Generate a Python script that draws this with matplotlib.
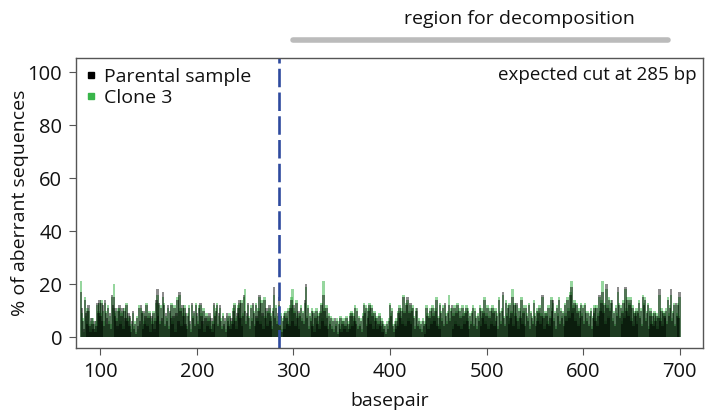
import matplotlib
matplotlib.use('Agg')
import matplotlib.pyplot as plt
from matplotlib.lines import Line2D
import numpy as np

# basepair positions 80..700
bp_start = 80
bp_end = 700

# % aberrant sequences, parental sample (one value per bp, rows of 10 bp)
parental = [
    17, 11, 6, 3, 14, 9, 5, 10, 12, 4,
    2, 7, 5, 3, 6, 2, 4, 13, 9, 14,
    8, 13, 6, 12, 4, 14, 9, 7, 11, 5,
    9, 3, 16, 12, 15, 8, 11, 6, 4, 10,
    12, 5, 8, 11, 3, 10, 7, 12, 6, 9,
    4, 8, 2, 6, 10, 3, 5, 1, 7, 4,
    11, 6, 12, 9, 3, 10, 5, 8, 12, 4,
    7, 9, 2, 8, 5, 9, 3, 6, 14, 18,
    8, 13, 5, 11, 7, 17, 12, 4, 9, 6,
    12, 3, 10, 7, 12, 5, 8, 11, 2, 9,
    14, 6, 17, 10, 4, 12, 8, 11, 5, 9,
    3, 8, 11, 6, 2, 13, 7, 10, 4, 12,
    9, 5, 11, 3, 13, 8, 6, 10, 2, 7,
    8, 4, 6, 9, 3, 7, 2, 5, 13, 8,
    10, 12, 4, 9, 12, 6, 3, 8, 5, 7,
    2, 9, 6, 4, 8, 3, 7, 5, 10, 12,
    6, 3, 9, 11, 14, 7, 13, 4, 8, 16,
    10, 5, 9, 13, 7, 3, 11, 6, 13, 9,
    4, 12, 8, 6, 10, 16, 5, 13, 9, 3,
    14, 7, 11, 4, 9, 12, 6, 8, 3, 10,
    19, 7, 11, 5, 9, 15, 4, 8, 2, 6,
    8, 3, 9, 7, 5, 10, 4, 11, 14, 6,
    12, 9, 4, 13, 7, 10, 3, 8, 11, 6,
    9, 5, 14, 20, 7, 11, 3, 8, 6, 10,
    4, 9, 2, 7, 10, 5, 8, 3, 9, 12,
    6, 16, 10, 4, 11, 7, 3, 8, 5, 7,
    3, 6, 2, 7, 4, 6, 1, 5, 3, 7,
    2, 5, 6, 3, 4, 7, 2, 5, 3, 8,
    9, 4, 8, 6, 11, 5, 10, 3, 7, 4,
    6, 2, 8, 12, 9, 11, 4, 7, 10, 12,
    5, 11, 8, 3, 9, 6, 7, 3, 5, 8,
    4, 6, 2, 5, 3, 4, 1, 5, 3, 6,
    12, 8, 10, 4, 2, 5, 3, 6, 4, 9,
    11, 7, 10, 5, 15, 9, 4, 12, 15, 6,
    9, 13, 5, 10, 11, 7, 3, 10, 11, 4,
    6, 3, 5, 2, 6, 4, 1, 5, 11, 8,
    3, 7, 10, 5, 11, 8, 6, 10, 14, 4,
    7, 3, 12, 9, 6, 11, 4, 13, 8, 5,
    9, 12, 6, 10, 12, 3, 8, 11, 5, 9,
    12, 4, 10, 7, 3, 11, 8, 5, 9, 11,
    6, 10, 3, 8, 5, 9, 11, 4, 10, 7,
    3, 8, 6, 11, 4, 10, 7, 9, 14, 5,
    8, 11, 3, 7, 10, 5, 11, 9, 4, 10,
    6, 8, 3, 14, 9, 5, 10, 17, 7, 4,
    13, 8, 11, 5, 12, 7, 9, 15, 4, 12,
    8, 13, 6, 3, 10, 7, 14, 5, 9, 11,
    4, 11, 8, 6, 12, 3, 9, 7, 5, 13,
    8, 4, 10, 6, 9, 11, 5, 8, 16, 7,
    3, 9, 8, 5, 11, 4, 7, 14, 10, 14,
    6, 9, 3, 11, 8, 14, 5, 10, 7, 9,
    4, 12, 8, 6, 14, 10, 7, 16, 19, 9,
    11, 13, 6, 12, 9, 4, 10, 7, 12, 8,
    11, 5, 12, 9, 6, 9, 4, 8, 10, 3,
    7, 9, 11, 6, 11, 4, 8, 16, 10, 13,
    17, 9, 12, 5, 20, 11, 7, 14, 10, 13,
    14, 6, 9, 4, 11, 8, 19, 12, 7, 11,
    5, 9, 13, 7, 19, 10, 14, 8, 12, 14,
    6, 11, 4, 9, 8, 10, 5, 9, 13, 7,
    10, 4, 15, 12, 14, 6, 9, 12, 3, 8,
    10, 5, 8, 4, 9, 6, 8, 3, 7, 18,
    6, 10, 4, 9, 8, 7, 10, 5, 14, 8,
    11, 18, 6, 9, 12, 4, 13, 8, 12, 7,
    17,
]

# % aberrant sequences, clone 3
clone3 = [
    21, 9, 7, 2, 15, 8, 6, 11, 10, 5,
    3, 6, 7, 2, 5, 3, 6, 12, 10, 13,
    9, 14, 5, 10, 6, 13, 10, 5, 12, 6,
    8, 5, 15, 11, 20, 9, 10, 7, 3, 11,
    11, 6, 9, 10, 4, 11, 6, 13, 7, 8,
    5, 7, 3, 5, 9, 4, 6, 2, 8, 3,
    12, 5, 11, 10, 4, 9, 6, 7, 13, 5,
    8, 10, 3, 7, 6, 10, 2, 7, 13, 16,
    9, 12, 6, 12, 6, 15, 13, 5, 8, 7,
    11, 4, 9, 8, 13, 6, 7, 12, 3, 8,
    15, 5, 16, 11, 5, 11, 9, 12, 4, 8,
    4, 9, 12, 5, 3, 12, 8, 9, 5, 13,
    8, 6, 12, 4, 12, 9, 5, 11, 3, 6,
    9, 5, 7, 8, 4, 6, 3, 6, 12, 9,
    11, 13, 5, 8, 11, 7, 4, 9, 4, 6,
    3, 8, 7, 5, 9, 4, 6, 6, 11, 13,
    7, 4, 8, 12, 13, 8, 14, 5, 9, 15,
    18, 6, 8, 12, 8, 4, 12, 7, 12, 10,
    5, 13, 7, 7, 11, 15, 6, 14, 8, 4,
    15, 8, 10, 5, 10, 11, 7, 9, 4, 11,
    16, 8, 12, 6, 8, 12, 5, 9, 3, 7,
    9, 4, 10, 8, 6, 11, 5, 12, 15, 18,
    11, 10, 5, 14, 8, 9, 4, 9, 12, 7,
    10, 6, 13, 19, 8, 12, 4, 9, 7, 11,
    5, 10, 3, 8, 11, 6, 9, 4, 10, 13,
    7, 21, 11, 5, 12, 8, 4, 9, 6, 8,
    4, 7, 3, 6, 5, 7, 2, 6, 4, 8,
    3, 6, 7, 4, 5, 8, 3, 6, 4, 9,
    10, 5, 9, 7, 12, 6, 11, 4, 8, 5,
    7, 3, 9, 13, 10, 12, 5, 8, 11, 13,
    6, 12, 9, 4, 10, 7, 8, 4, 6, 9,
    5, 7, 3, 6, 4, 5, 2, 6, 4, 7,
    13, 9, 11, 5, 3, 6, 4, 7, 5, 10,
    12, 8, 11, 6, 16, 10, 5, 13, 14, 7,
    10, 12, 6, 11, 12, 8, 4, 11, 10, 5,
    7, 4, 6, 3, 7, 5, 2, 6, 12, 9,
    4, 8, 11, 6, 12, 9, 7, 11, 15, 5,
    8, 4, 13, 10, 7, 12, 5, 12, 9, 6,
    10, 16, 7, 11, 11, 4, 9, 12, 6, 10,
    13, 5, 11, 8, 4, 12, 9, 6, 10, 12,
    7, 11, 4, 9, 6, 10, 12, 5, 11, 8,
    4, 9, 7, 12, 5, 11, 8, 10, 15, 6,
    9, 12, 4, 8, 11, 6, 12, 10, 5, 11,
    7, 9, 4, 15, 10, 6, 11, 16, 8, 5,
    14, 9, 12, 6, 13, 8, 10, 18, 5, 13,
    9, 12, 7, 4, 11, 8, 15, 6, 10, 12,
    5, 12, 9, 7, 13, 4, 10, 8, 6, 14,
    9, 5, 11, 7, 10, 12, 6, 9, 15, 8,
    4, 10, 9, 6, 12, 5, 8, 15, 11, 13,
    7, 10, 4, 12, 9, 15, 6, 11, 8, 10,
    5, 13, 9, 7, 15, 11, 8, 17, 21, 10,
    12, 14, 7, 13, 10, 5, 11, 8, 13, 9,
    12, 6, 13, 10, 7, 10, 5, 9, 11, 4,
    8, 10, 12, 7, 12, 5, 9, 15, 11, 14,
    21, 10, 13, 6, 18, 12, 8, 15, 11, 14,
    13, 7, 10, 5, 12, 9, 17, 13, 8, 12,
    6, 10, 14, 8, 18, 11, 15, 9, 13, 15,
    7, 12, 5, 10, 9, 11, 6, 10, 14, 8,
    11, 5, 16, 13, 15, 7, 10, 13, 4, 9,
    11, 6, 9, 5, 10, 7, 9, 4, 8, 16,
    7, 11, 5, 10, 9, 8, 11, 6, 15, 9,
    12, 16, 7, 10, 13, 5, 12, 9, 13, 8,
    15,
]

cut_site = 285
region_start = 300
region_end = 688

plt.rcParams['font.family'] = ['Open Sans', 'DejaVu Sans']
plt.rcParams['font.size'] = 14
txt_color = '#111111'

fig = plt.figure(figsize=(7.05, 4.12), dpi=100)
ax = fig.add_axes([0.108, 0.155, 0.889, 0.704])

x = np.arange(bp_start, bp_end + 1)
# wide, semi-transparent bars overlap each other -> dark base, light tips
ax.bar(x, clone3, width=2.6, color='#2fae3e', linewidth=0, alpha=0.5)
ax.bar(x, parental, width=2.6, color='black', linewidth=0, alpha=0.45)

ax.axvline(cut_site, color='#2e4a9e', linewidth=1.9, dashes=(7, 2))

ax.set_xlim(75, 724)
ax.set_ylim(-4.2, 105.3)
ax.set_xticks([100, 200, 300, 400, 500, 600, 700])
ax.set_yticks([0, 20, 40, 60, 80, 100])
ax.tick_params(direction='out', length=5, color='#555555', labelcolor=txt_color,
               pad=5, labelsize=14.5)
for s in ax.spines.values():
    s.set_color('#555555')
    s.set_linewidth(1.0)

ax.set_xlabel('basepair', color=txt_color, labelpad=7)
ax.set_ylabel('% of aberrant sequences', color=txt_color, labelpad=-1)

# decomposition region bar above the plot
trans = matplotlib.transforms.blended_transform_factory(ax.transData, ax.transAxes)
ax.plot([region_start, region_end], [1.062, 1.062], transform=trans, color='#bbbbbb',
        linewidth=4, solid_capstyle='round', clip_on=False)
fig.text(0.737, 0.953, 'region for decomposition', ha='center', va='center', color=txt_color)

ax.text(0.99, 0.94, 'expected cut at 285 bp', transform=ax.transAxes, ha='right', va='center',
        color=txt_color, fontsize=13.5)

handles = [Line2D([], [], marker='s', color='black', linestyle='none', markersize=4),
           Line2D([], [], marker='s', color='#39b54a', linestyle='none', markersize=4)]
leg = ax.legend(handles, ['Parental sample', 'Clone 3'], loc='upper left', frameon=False,
                handlelength=0.8, handletextpad=0.3, labelspacing=0.15,
                borderaxespad=0.1, bbox_to_anchor=(-0.005, 1.0))
for t in leg.get_texts():
    t.set_color(txt_color)

plt.savefig('out.png', dpi=100)
